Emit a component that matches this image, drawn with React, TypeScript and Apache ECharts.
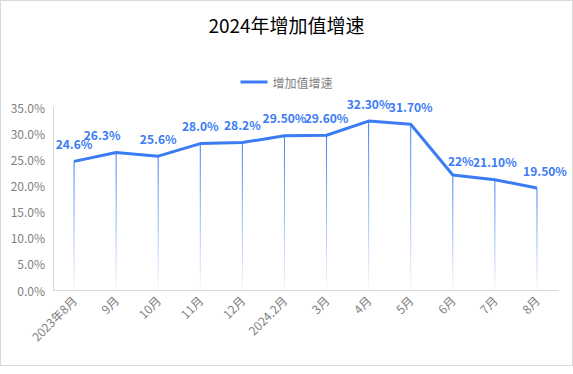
import React, { useEffect, useRef } from "react";
import * as echarts from "echarts";

const categories = ["2023年8月", "9月", "10月", "11月", "12月", "2024.2月", "3月", "4月", "5月", "6月", "7月", "8月"];
const values = [24.6, 26.3, 25.6, 28.0, 28.2, 29.5, 29.6, 32.3, 31.7, 22, 21.1, 19.5];
const labelTexts = ["24.6%", "26.3%", "25.6%", "28.0%", "28.2%", "29.50%", "29.60%", "32.30%", "31.70%", "22%", "21.10%", "19.50%"];
const labelOffsets: [number, number][] = [[0, 0], [-14, 0], [0, 0], [0, 0], [0, 0], [0, 0], [0, 0], [0, 0], [0, 0], [8, 4], [0, 0], [8, 1]];
const yTicks = { min: 0, max: 35, interval: 5 };

const BLUE = "#3b7cf4";
const GRAY = "#7f7f7f";
const FONT = "'Noto Sans CJK SC', 'Noto Sans', sans-serif";

export default function App() {
  const ref = useRef<HTMLDivElement>(null);
  useEffect(() => {
    if (!ref.current) return;
    const chart = echarts.init(ref.current, undefined, { renderer: "svg" });
    chart.setOption({
      animation: false,
      backgroundColor: "#ffffff",
      textStyle: { fontFamily: FONT },
      title: {
        text: "2024年增加值增速",
        left: "center",
        top: 9,
        textStyle: { fontSize: 19, fontWeight: "normal", color: "#000000", fontFamily: FONT },
      },
      legend: {
        data: ["增加值增速"],
        top: 70,
        left: "center",
        icon: "rect",
        itemWidth: 27,
        itemHeight: 3,
        itemGap: 5,
        textStyle: { fontSize: 12, color: GRAY, fontFamily: FONT },
      },
      grid: { left: 52, right: 14, top: 106, bottom: 75, containLabel: false },
      xAxis: {
        type: "category",
        data: categories,
        boundaryGap: true,
        axisLine: { lineStyle: { color: "#d9d9d9" } },
        axisTick: { show: false },
        axisLabel: { rotate: 45, color: GRAY, fontSize: 12, margin: 8, interval: 0, fontFamily: FONT },
      },
      yAxis: {
        type: "value",
        min: yTicks.min,
        max: yTicks.max,
        interval: yTicks.interval,
        axisLine: { show: true, lineStyle: { color: "#d9d9d9" } },
        axisTick: { show: false },
        splitLine: { show: false },
        axisLabel: {
          color: GRAY,
          fontSize: 12,
          margin: 8,
          fontFamily: FONT,
          formatter: (v: number) => v.toFixed(1) + "%",
        },
      },
      series: [
        {
          type: "bar",
          barWidth: 1,
          silent: true,
          z: 1,
          data: values,
          itemStyle: {
            color: new echarts.graphic.LinearGradient(0, 0, 0, 1, [
              { offset: 0, color: "rgba(59,124,244,1)" },
              { offset: 1, color: "rgba(59,124,244,0.05)" },
            ]),
          },
        },
        {
          name: "增加值增速",
          type: "line",
          z: 3,
          data: values.map((v, i) => ({
            value: v,
            label: { offset: labelOffsets[i] },
          })),
          lineStyle: { color: BLUE, width: 3 },
          itemStyle: { color: BLUE },
          symbol: "circle",
          symbolSize: 0.1,
          showSymbol: true,
          label: {
            show: true,
            position: "top",
            distance: 12,
            color: BLUE,
            fontSize: 12,
            fontWeight: "bold",
            fontFamily: FONT,
            formatter: (p: any) => labelTexts[p.dataIndex],
          },
        },
      ],
    });
    return () => chart.dispose();
  }, []);
  return (
    <div style={{ position: "fixed", left: 0, top: 0, width: 573, height: 374, background: "#fff" }}>
      <div
        style={{
          position: "absolute",
          left: 0,
          top: 0,
          width: 573,
          height: 366,
          boxSizing: "border-box",
          border: "1px solid #d9d9d9",
        }}
      >
        <div ref={ref} style={{ width: 571, height: 364 }} />
      </div>
    </div>
  );
}
